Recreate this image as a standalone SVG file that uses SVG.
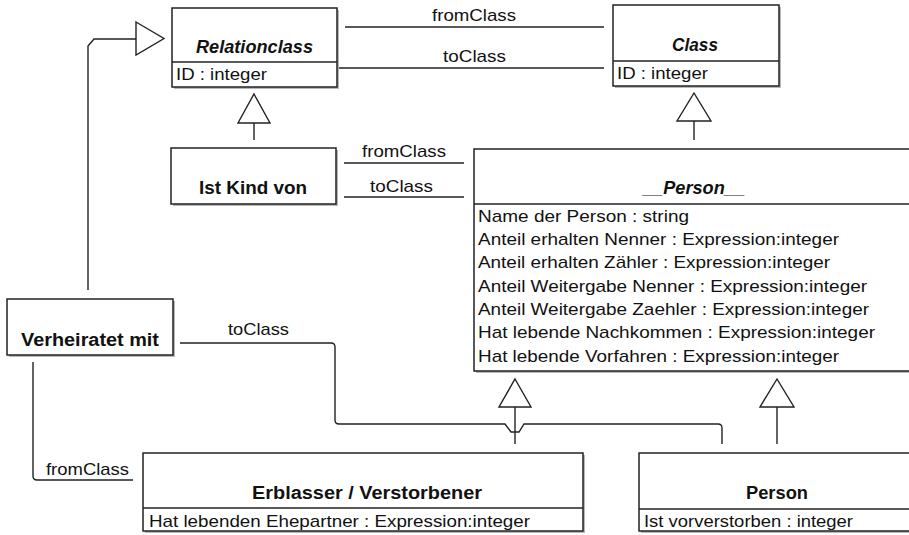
<svg xmlns="http://www.w3.org/2000/svg" width="909" height="535" viewBox="0 0 909 535">
<defs>
<style>
.box{fill:#fff;stroke:#222;stroke-width:1.5}
.sh{fill:#b8b8b8}
.sep{stroke:#222;stroke-width:1.3}
.ln{fill:none;stroke:#222;stroke-width:1.4}
.tri{fill:#fff;stroke:#222;stroke-width:1.4;stroke-linejoin:miter}
text{font-family:"Liberation Sans",Arial,sans-serif;fill:#111}
.t{font-size:18px;font-weight:bold}
.ti{font-size:18px;font-weight:bold;font-style:italic}
.a{font-size:17px}
.l{font-size:17px}
</style>
</defs>
<rect width="909" height="535" fill="#fff"/>

<g id="connectors">
  <!-- Relationclass - Class -->
  <line class="ln" x1="345" y1="27" x2="604" y2="27"/>
  <text class="l" x="432" y="21" textLength="84" lengthAdjust="spacingAndGlyphs">fromClass</text>
  <line class="ln" x1="336" y1="68" x2="604" y2="68"/>
  <text class="l" x="443" y="62" textLength="63" lengthAdjust="spacingAndGlyphs">toClass</text>
  <!-- Ist Kind von -> Relationclass -->
  <line class="ln" x1="254" y1="140" x2="254" y2="123"/>
  <polygon class="tri" points="254,94 270,123 238,123"/>
  <!-- __Person__ -> Class -->
  <line class="ln" x1="694" y1="140" x2="694" y2="121"/>
  <polygon class="tri" points="694,93 711,121 677,121"/>
  <!-- Ist Kind von - __Person__ -->
  <line class="ln" x1="344" y1="163" x2="464" y2="163"/>
  <text class="l" x="362" y="157" textLength="84" lengthAdjust="spacingAndGlyphs">fromClass</text>
  <line class="ln" x1="344" y1="197" x2="464" y2="197"/>
  <text class="l" x="370" y="192" textLength="63" lengthAdjust="spacingAndGlyphs">toClass</text>
  <!-- Verheiratet mit -> Relationclass -->
  <path class="ln" d="M88,290 L88,46 L94,39 L136,39"/>
  <polygon class="tri" points="136,22 164,38.5 136,55"/>
  <!-- Verheiratet mit toClass -->
  <path class="ln" d="M180,343 L331,343 Q335,343 335,347 L335,420 Q335,424 339,424 L505,424 L511,432 L519,432 L524,424 L718,424 Q722,424 722,428 L722,444"/>
  <text class="l" x="228" y="335" textLength="61" lengthAdjust="spacingAndGlyphs">toClass</text>
  <!-- Verheiratet mit fromClass -->
  <path class="ln" d="M33,362 L33,476 Q33,480 37,480 L133,480"/>
  <text class="l" x="46" y="475" textLength="83" lengthAdjust="spacingAndGlyphs">fromClass</text>
  <!-- Erblasser -> __Person__ -->
  <line class="ln" x1="515" y1="444" x2="515" y2="407"/>
  <polygon class="tri" points="515,379 531,407 499,407"/>
  <!-- Person -> __Person__ -->
  <line class="ln" x1="777" y1="444" x2="777" y2="407"/>
  <polygon class="tri" points="777,379 794,407 760,407"/>
</g>

<g id="relationclass">
  <rect class="sh" x="174" y="10" width="165" height="79"/>
  <rect class="box" x="172" y="8" width="165" height="79"/>
  <line class="sep" x1="172" y1="62" x2="337" y2="62"/>
  <text class="ti" x="196" y="53" textLength="117" lengthAdjust="spacingAndGlyphs">Relationclass</text>
  <text class="a" x="176" y="80" textLength="91" lengthAdjust="spacingAndGlyphs">ID : integer</text>
</g>

<g id="class">
  <rect class="sh" x="615" y="7" width="166" height="81"/>
  <rect class="box" x="613" y="5" width="166" height="81"/>
  <line class="sep" x1="613" y1="61" x2="779" y2="61"/>
  <text class="ti" x="672" y="51" textLength="46" lengthAdjust="spacingAndGlyphs">Class</text>
  <text class="a" x="617" y="79" textLength="91" lengthAdjust="spacingAndGlyphs">ID : integer</text>
</g>

<g id="ist-kind-von">
  <rect class="sh" x="173" y="150" width="165" height="56"/>
  <rect class="box" x="171" y="148" width="165" height="56"/>
  <text class="t" x="199" y="194" textLength="108" lengthAdjust="spacingAndGlyphs">Ist Kind von</text>
</g>

<g id="person-abstract">
  <rect class="sh" x="476" y="151" width="440" height="222"/>
  <rect class="box" x="474" y="149" width="440" height="222"/>
  <line class="sep" x1="474" y1="204" x2="914" y2="204"/>
  <text class="ti" x="643" y="194" textLength="102" lengthAdjust="spacingAndGlyphs">__Person__</text>
  <text class="a" x="478" y="222" textLength="211" lengthAdjust="spacingAndGlyphs">Name der Person : string</text>
  <text class="a" x="478" y="245" textLength="361" lengthAdjust="spacingAndGlyphs">Anteil erhalten Nenner : Expression:integer</text>
  <text class="a" x="478" y="268" textLength="352" lengthAdjust="spacingAndGlyphs">Anteil erhalten Zähler : Expression:integer</text>
  <text class="a" x="478" y="292" textLength="389" lengthAdjust="spacingAndGlyphs">Anteil Weitergabe Nenner : Expression:integer</text>
  <text class="a" x="478" y="315" textLength="391" lengthAdjust="spacingAndGlyphs">Anteil Weitergabe Zaehler : Expression:integer</text>
  <text class="a" x="478" y="338" textLength="397" lengthAdjust="spacingAndGlyphs">Hat lebende Nachkommen : Expression:integer</text>
  <text class="a" x="478" y="362" textLength="361" lengthAdjust="spacingAndGlyphs">Hat lebende Vorfahren : Expression:integer</text>
</g>

<g id="verheiratet-mit">
  <rect class="sh" x="9" y="301" width="166" height="56"/>
  <rect class="box" x="7" y="299" width="166" height="56"/>
  <text class="t" x="21" y="346" textLength="138" lengthAdjust="spacingAndGlyphs">Verheiratet mit</text>
</g>

<g id="erblasser">
  <rect class="sh" x="145" y="455" width="440" height="78"/>
  <rect class="box" x="143" y="453" width="440" height="78"/>
  <line class="sep" x1="143" y1="508" x2="583" y2="508"/>
  <text class="t" x="252" y="499" textLength="230" lengthAdjust="spacingAndGlyphs">Erblasser / Verstorbener</text>
  <text class="a" x="149" y="527" textLength="381" lengthAdjust="spacingAndGlyphs">Hat lebenden Ehepartner : Expression:integer</text>
</g>

<g id="person">
  <rect class="sh" x="641" y="455" width="275" height="78"/>
  <rect class="box" x="639" y="453" width="275" height="78"/>
  <line class="sep" x1="639" y1="509" x2="914" y2="509"/>
  <text class="t" x="746" y="499" textLength="62" lengthAdjust="spacingAndGlyphs">Person</text>
  <text class="a" x="644" y="527" textLength="209" lengthAdjust="spacingAndGlyphs">Ist vorverstorben : integer</text>
</g>
</svg>
